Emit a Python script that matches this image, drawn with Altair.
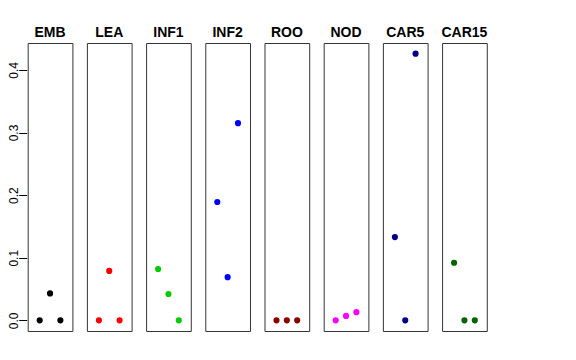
import altair as alt
import pandas as pd

panels = ["EMB", "LEA", "INF1", "INF2", "ROO", "NOD", "CAR5", "CAR15"]
colors = ["#000000", "#FF0000", "#00CD00", "#0000FF", "#8B0000", "#FF00FF", "#00008B", "#006400"]
positions = [1, 2, 3]
values = {
    "EMB": [0.0, 0.043, 0.0],
    "LEA": [0.0, 0.079, 0.0],
    "INF1": [0.082, 0.042, 0.0],
    "INF2": [0.189, 0.069, 0.315],
    "ROO": [0.0, 0.0, 0.0],
    "NOD": [0.0, 0.007, 0.013],
    "CAR5": [0.133, 0.0, 0.426],
    "CAR15": [0.092, 0.0, 0.0],
}
y_ticks = [0.0, 0.1, 0.2, 0.3, 0.4]

rows = []
for p in panels:
    for xi, v in zip(positions, values[p]):
        rows.append({"panel": p, "x": xi, "y": v})
df = pd.DataFrame(rows)

base = alt.Chart(df).mark_circle(size=38, opacity=1).encode(
    x=alt.X("x:Q", scale=alt.Scale(domain=[-0.16, 4.16], nice=False, zero=False), axis=None),
    y=alt.Y("y:Q", scale=alt.Scale(domain=[-0.01704, 0.44304], nice=False, zero=False),
            axis=alt.Axis(values=y_ticks, format=".1f", title=None, grid=False, domain=False,
                          tickSize=8, tickColor="black", labelColor="black", labelFontSize=12,
                          labelAngle=-90, labelAlign="center", labelBaseline="bottom",
                          labelPadding=-2, labelFont="Liberation Sans")),
    color=alt.Color("panel:N", scale=alt.Scale(domain=panels, range=colors), legend=None),
).properties(width=44.7, height=288)

chart = base.facet(
    column=alt.Column("panel:N", sort=panels,
                      header=alt.Header(title=None, labelOrient="top", labelFontWeight="bold",
                                        labelFontSize=14, labelFont="Liberation Sans",
                                        labelColor="black", labelPadding=2)),
    spacing=12.2,
).properties(
    padding={"left": -1.3, "top": 18, "right": 0, "bottom": 0},
).configure(background="white").configure_view(stroke="#333333", strokeWidth=1)

chart.save("out.html", embed_options={"renderer": "svg", "actions": False})
